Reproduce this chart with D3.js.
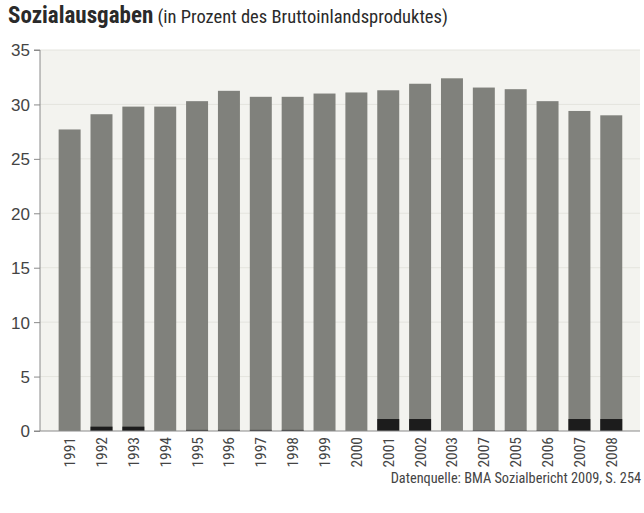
<!DOCTYPE html>
<html>
<head>
<meta charset="utf-8">
<script src="https://cdn.jsdelivr.net/npm/d3@7"></script>
<style>
  body { margin: 0; background: #fff; }
  svg { display: block; }
</style>
</head>
<body>
<svg id="chart" width="644" height="513"></svg>
<script>
const years = ["1991","1992","1993","1994","1995","1996","1997","1998","1999","2000","2001","2002","2003","2007","2005","2006","2007","2008"];
const totalValues = [27.7, 29.1, 29.8, 29.8, 30.3, 31.25, 30.7, 30.7, 31.0, 31.1, 31.3, 31.9, 32.4, 31.55, 31.4, 30.3, 29.4, 29.0];
const darkValues = [0, 0.4, 0.4, 0, 0.1, 0.1, 0.1, 0.1, 0, 0, 1.1, 1.1, 0, 0.05, 0.05, 0.05, 1.1, 1.1];
const yTicks = [0, 5, 10, 15, 20, 25, 30, 35];
const titleBold = "Sozialausgaben";
const titleRest = " (in Prozent des Bruttoinlandsproduktes)";
const sourceText = "Datenquelle: BMA Sozialbericht 2009, S. 254";

const narrow = "'Liberation Sans Narrow', 'Arial Narrow', 'Roboto Condensed', sans-serif";
const svg = d3.select("#chart");

const plot = { left: 40, right: 640, top: 50, bottom: 431 };
const idx = years.map((d, i) => i);

const x = d3.scaleBand().domain(idx).range([53.7, 627.2]).paddingInner(0.31).paddingOuter(0.155);
const y = d3.scaleLinear().domain([0, 35]).range([plot.bottom, plot.top]);

// plot background
svg.append("rect").attr("x", plot.left).attr("y", plot.top)
  .attr("width", plot.right - plot.left).attr("height", plot.bottom - plot.top)
  .attr("fill", "#f3f3ef");

// gridlines
svg.append("g").selectAll("line").data(yTicks.filter(t => t > 0)).join("line")
  .attr("x1", plot.left).attr("x2", plot.right)
  .attr("y1", d => y(d)).attr("y2", d => y(d))
  .attr("stroke", "#e4e4de").attr("stroke-width", 1);

// bars
svg.append("g").selectAll("rect").data(idx).join("rect")
  .attr("x", i => x(i)).attr("width", x.bandwidth())
  .attr("y", i => y(totalValues[i])).attr("height", i => y(0) - y(totalValues[i]))
  .attr("fill", "#80817c");

svg.append("g").selectAll("rect").data(idx.filter(i => darkValues[i] > 0)).join("rect")
  .attr("x", i => x(i)).attr("width", x.bandwidth())
  .attr("y", i => y(darkValues[i])).attr("height", i => y(0) - y(darkValues[i]))
  .attr("fill", "#1c1c1c");

// y axis
const yAxis = d3.axisLeft(y).tickValues(yTicks).tickSize(6).tickPadding(4);
const gy = svg.append("g").attr("transform", `translate(${plot.left},0)`).call(yAxis);
gy.select(".domain").attr("stroke", "#8a8a8a").attr("d", `M-6,${plot.top}H0V${plot.bottom}`);
gy.selectAll(".tick line").attr("stroke", "#8a8a8a");
gy.selectAll(".tick text").attr("fill", "#444")
  .style("font-family", "'Liberation Sans', Arial, sans-serif").style("font-size", "17px")
  .attr("dy", "0.35em");

// x axis
const xAxis = d3.axisBottom(x).tickFormat(i => years[i]).tickSize(0).tickPadding(0);
const gx = svg.append("g").attr("transform", `translate(0,${plot.bottom})`).call(xAxis);
gx.select(".domain").attr("stroke", "#8a8a8a").attr("d", `M${plot.left - 6},0H${plot.right}`);
gx.selectAll(".tick text")
  .attr("transform", "rotate(-90)")
  .attr("x", -6).attr("y", 0).attr("dy", "0.35em")
  .attr("text-anchor", "end")
  .attr("fill", "#444")
  .style("font-family", narrow).style("font-size", "15.5px");

// title
const title = svg.append("text").attr("x", 8).attr("y", 23).attr("fill", "#2a2a2a");
title.append("tspan").text(titleBold)
  .style("font-family", narrow).style("font-weight", "bold").style("font-size", "23px");
title.append("tspan").text(titleRest)
  .style("font-family", narrow).style("font-size", "18.5px");

// source
svg.append("text").attr("x", 641).attr("y", 483).attr("text-anchor", "end")
  .attr("fill", "#444")
  .style("font-family", narrow).style("font-size", "14.3px")
  .text(sourceText);
</script>
</body>
</html>
